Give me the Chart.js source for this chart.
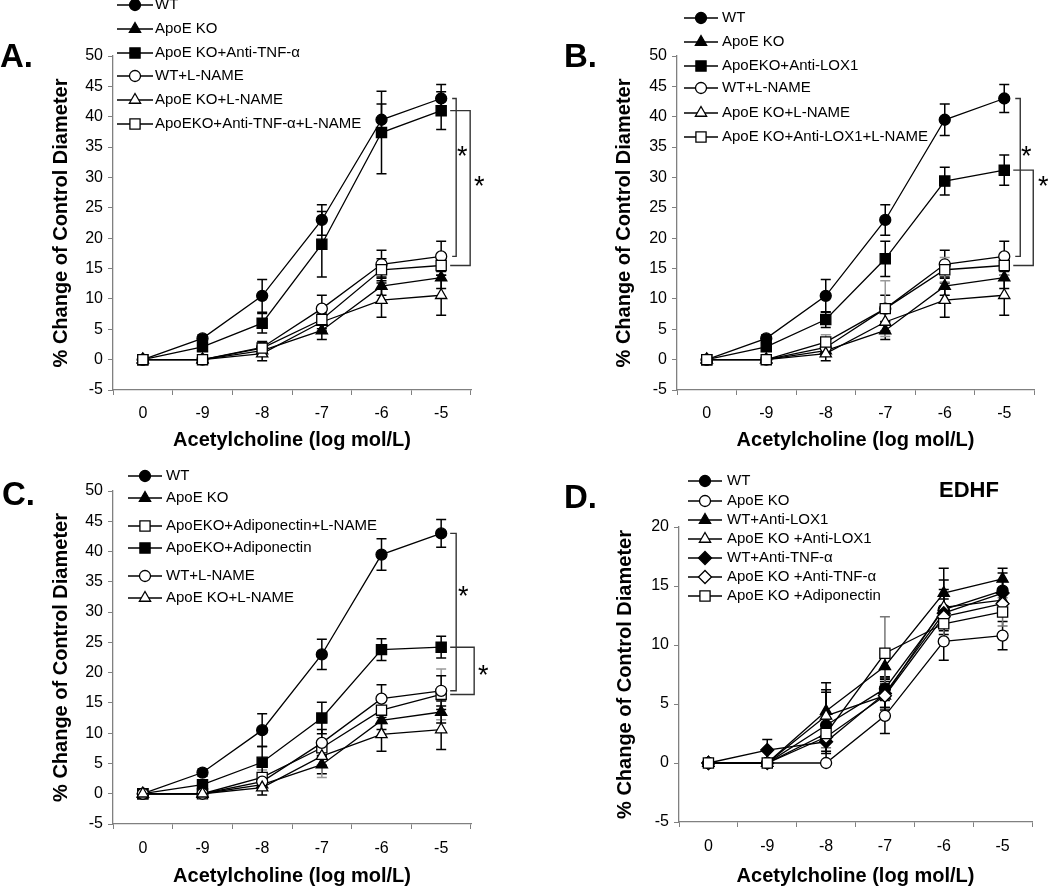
<!DOCTYPE html>
<html>
<head>
<meta charset="utf-8">
<title>Acetylcholine dose response</title>
<script src="https://cdn.jsdelivr.net/npm/chart.js@4.4.1/dist/chart.umd.min.js"></script>
<style>
  body { margin: 0; background: #fff; }
  #wrap { position: relative; width: 1050px; height: 888px; overflow: hidden; }
  canvas { position: absolute; }
</style>
</head>
<body>
<div id="wrap">
  <canvas id="chartA" width="525" height="452" style="left:0;top:0"></canvas>
  <canvas id="chartB" width="525" height="452" style="left:525px;top:0"></canvas>
  <canvas id="chartC" width="525" height="452" style="left:0;top:436px"></canvas>
  <canvas id="chartD" width="525" height="452" style="left:525px;top:436px"></canvas>
</div>
<script>
// x categories (log mol/L acetylcholine)
const doseLabels = ['0', '-9', '-8', '-7', '-6', '-5'];

// series shared by panels A-C
const wtMean = [0, 3.5, 10.5, 23.0, 39.5, 43.0];
const wtErr = [0, 0.6, 2.7, 2.5, 2.6, 2.3];
const apoeMean = [0, 0, 1.5, 4.8, 12.1, 13.5];
const apoeErr = [0, 0.3, 0.8, 1.5, 1.5, 1.8];
const wtLnMean = [0, 0, 2.0, 8.4, 15.7, 17.0];
const wtLnErr = [0, 0.3, 1.0, 2.2, 2.3, 2.5];
const apoeLnMean = [0, 0, 1.0, 6.2, 9.8, 10.6];
const apoeLnErr = [0, 0.3, 1.2, 1.5, 2.8, 3.3];

// panel A
const tnfMean = [0, 2.1, 6.0, 19.0, 37.4, 41.0];
const tnfErr = [0, 0.5, 1.6, 5.4, 6.8, 3.1];
const tnfLnMean = [0, 0, 1.9, 6.6, 14.8, 15.5];
const tnfLnErr = [0, 0.3, 0.8, 1.5, 1.8, 1.6];

// panel B
const loxMean = [0, 2.1, 6.6, 16.6, 29.4, 31.2];
const loxErr = [0, 0.5, 1.3, 2.9, 2.3, 2.5];
const loxLnMean = [0, 0, 2.9, 8.4, 14.8, 15.5];
const loxLnErr = [0, 0.3, 1.2, 4.6, 2.0, 1.6];

// panel C
const adipoMean = [0, 1.5, 5.2, 12.5, 23.8, 24.2];
const adipoErr = [0, 0.5, 2.6, 2.6, 1.8, 1.8];
const adipoLnMean = [0, 0, 2.7, 7.6, 13.8, 16.4];
const adipoLnErr = [0, 0.3, 1.2, 4.9, 2.2, 4.2];

// panel D (EDHF)
const dWtMean = [0, 0, 3.2, 6.3, 13.0, 14.6];
const dWtErr = [0, 0, 3.0, 1.0, 2.5, 1.5];
const dApoeMean = [0, 0, 0, 4.0, 10.3, 10.8];
const dApoeErr = [0, 0, 0, 1.5, 1.6, 1.2];
const dWtLoxMean = [0, 0, 4.4, 8.2, 14.4, 15.6];
const dWtLoxErr = [0, 0, 2.4, 1.0, 2.1, 0.9];
const dApoeLoxMean = [0, 0, 4.0, 5.7, 13.2, 13.8];
const dApoeLoxErr = [0, 0, 2.0, 1.0, 1.5, 1.0];
const dWtTnfMean = [0, 1.1, 1.8, 5.9, 12.7, 14.4];
const dWtTnfErr = [0, 0.9, 1.0, 1.2, 1.5, 1.0];
const dApoeTnfMean = [0, 0, 2.2, 5.7, 12.4, 13.5];
const dApoeTnfErr = [0, 0, 1.2, 1.2, 1.5, 1.0];
const dApoeAdipoMean = [0, 0, 2.5, 9.3, 11.8, 12.8];
const dApoeAdipoErr = [0, 0, 1.2, 3.1, 1.5, 1.2];

const FONT = "'Liberation Sans', Arial, sans-serif";
const markerSize = { circle: 5.5, triangle: 6.5, rect: 7.2, rectRot: 6.5 };

// error bars behind the lines
const errorBars = {
  id: 'errorBars',
  beforeDatasetsDraw(chart) {
    const { ctx, scales: { x, y } } = chart;
    ctx.save();
    ctx.lineWidth = 1.5;
    chart.data.datasets.forEach(ds => {
      if (!ds.errors) return;
      ctx.strokeStyle = ds.errColor || '#000';
      ds.data.forEach((v, i) => {
        const e = ds.errors[i];
        if (!e) return;
        const px = x.getPixelForValue(i);
        const top = y.getPixelForValue(v + e);
        const bot = y.getPixelForValue(v - e);
        ctx.beginPath();
        ctx.moveTo(px, top); ctx.lineTo(px, bot);
        ctx.moveTo(px - 5, top); ctx.lineTo(px + 5, top);
        ctx.moveTo(px - 5, bot); ctx.lineTo(px + 5, bot);
        ctx.stroke();
      });
    });
    ctx.restore();
  }
};

// significance brackets at the last dose
const brackets = {
  id: 'brackets',
  afterDatasetsDraw(chart, args, opts) {
    const { ctx, scales: { x, y } } = chart;
    const ds = chart.data.datasets;
    const last = doseLabels.length - 1;
    const px = x.getPixelForValue(last);
    ctx.save();
    ctx.strokeStyle = '#333';
    ctx.lineWidth = 1.4;
    ctx.fillStyle = '#000';
    ctx.font = '27px ' + FONT;
    ctx.textAlign = 'center';
    ctx.textBaseline = 'middle';
    (opts.items || []).forEach(b => {
      const y1 = y.getPixelForValue(ds[b.from].data[last]);
      const y2 = y.getPixelForValue(ds[b.to].data[last]);
      ctx.beginPath();
      ctx.moveTo(px + b.tick, y1);
      ctx.lineTo(px + b.dx, y1);
      ctx.lineTo(px + b.dx, y2);
      ctx.lineTo(px + b.tick, y2);
      ctx.stroke();
      ctx.fillText('*', px + b.starDx, y.getPixelForValue(b.starY));
    });
    ctx.restore();
  }
};

// legend drawn as line + marker rows
const sideLegend = {
  id: 'sideLegend',
  afterDraw(chart, args, opts) {
    const ctx = chart.ctx;
    ctx.save();
    ctx.font = '15px ' + FONT;
    ctx.textBaseline = 'middle';
    ctx.textAlign = 'left';
    chart.data.datasets.forEach((ds, i) => {
      const y = opts.rows[i];
      ctx.strokeStyle = '#000';
      ctx.lineWidth = 1.3;
      ctx.beginPath();
      ctx.moveTo(opts.x0, y);
      ctx.lineTo(opts.x1, y);
      ctx.stroke();
      ctx.fillStyle = ds.pointBackgroundColor;
      Chart.helpers.drawPoint(ctx, { pointStyle: ds.pointStyle, radius: ds.pointRadius, borderWidth: 1.3, rotation: 0 }, (opts.x0 + opts.x1) / 2, y);
      ctx.fillStyle = '#000';
      ctx.fillText(ds.label, opts.tx, y);
    });
    ctx.restore();
  }
};

// panel letter and extra heading
const panelText = {
  id: 'panelText',
  afterDraw(chart, args, opts) {
    const ctx = chart.ctx;
    ctx.save();
    ctx.fillStyle = '#000';
    ctx.textBaseline = 'middle';
    ctx.textAlign = 'left';
    ctx.font = 'bold 33px ' + FONT;
    ctx.fillText(opts.letter, opts.lx, opts.ly);
    if (opts.extra) {
      ctx.textAlign = 'center';
      ctx.font = 'bold 22px ' + FONT;
      ctx.fillText(opts.extra, opts.ex, opts.ey);
    }
    ctx.restore();
  }
};

const panels = [
  {
    id: 'chartA', yMax: 50,
    names: ['WT', 'ApoE KO', 'ApoE KO+Anti-TNF-α', 'WT+L-NAME', 'ApoE KO+L-NAME', 'ApoEKO+Anti-TNF-α+L-NAME'],
    means: [wtMean, apoeMean, tnfMean, wtLnMean, apoeLnMean, tnfLnMean],
    errs: [wtErr, apoeErr, tnfErr, wtLnErr, apoeLnErr, tnfLnErr],
    marks: ['circle', 'triangle', 'rect', 'circle', 'triangle', 'rect'],
    filled: [1, 1, 1, 0, 0, 0],
    padL: 45, padR: 54, padT: 56, yW: 68, xH: 62, xPad: 9,
    legend: { x0: 117, x1: 153, tx: 155, rows: [5, 29, 53, 76, 100, 124] },
    text: { letter: 'A.', lx: 0, ly: 58 },
    brackets: [
      { from: 0, to: 3, tick: 11, dx: 15, starDx: 21, starY: 33.3 },
      { from: 2, to: 5, tick: 9, dx: 29, starDx: 38, starY: 28.3 }
    ]
  },
  {
    id: 'chartB', yMax: 50,
    names: ['WT', 'ApoE KO', 'ApoEKO+Anti-LOX1', 'WT+L-NAME', 'ApoE KO+L-NAME', 'ApoE KO+Anti-LOX1+L-NAME'],
    means: [wtMean, apoeMean, loxMean, wtLnMean, apoeLnMean, loxLnMean],
    errs: [wtErr, apoeErr, loxErr, wtLnErr, apoeLnErr, loxLnErr],
    marks: ['circle', 'triangle', 'rect', 'circle', 'triangle', 'rect'],
    filled: [1, 1, 1, 0, 0, 0],
    errColors: ['#000', '#000', '#000', '#000', '#000', '#999'],
    padL: 83, padR: 16, padT: 56, yW: 69, xH: 62, xPad: 9,
    legend: { x0: 159, x1: 193, tx: 197, rows: [18, 42, 66, 88, 113, 137] },
    text: { letter: 'B.', lx: 39, ly: 58 },
    brackets: [
      { from: 0, to: 3, tick: 11, dx: 16, starDx: 22, starY: 33.3 },
      { from: 2, to: 5, tick: 9, dx: 29, starDx: 39, starY: 28.3 }
    ]
  },
  {
    id: 'chartC', yMax: 50,
    names: ['WT', 'ApoE KO', 'ApoEKO+Adiponectin+L-NAME', 'ApoEKO+Adiponectin', 'WT+L-NAME', 'ApoE KO+L-NAME'],
    means: [wtMean, apoeMean, adipoLnMean, adipoMean, wtLnMean, apoeLnMean],
    errs: [wtErr, apoeErr, adipoLnErr, adipoErr, wtLnErr, apoeLnErr],
    marks: ['circle', 'triangle', 'rect', 'rect', 'circle', 'triangle'],
    filled: [1, 1, 0, 1, 0, 0],
    errColors: ['#000', '#000', '#999', '#000', '#000', '#000'],
    padL: 45, padR: 54, padT: 55, yW: 68, xH: 64, xPad: 10,
    legend: { x0: 128, x1: 162, tx: 166, rows: [40, 62, 90, 112, 140, 162] },
    text: { letter: 'C.', lx: 2, ly: 60 },
    brackets: [
      { from: 0, to: 4, tick: 9, dx: 15, starDx: 22, starY: 32.4 },
      { from: 3, to: 2, tick: 9, dx: 33, starDx: 42, starY: 19.3 }
    ]
  },
  {
    id: 'chartD', yMax: 20,
    names: ['WT', 'ApoE KO', 'WT+Anti-LOX1', 'ApoE KO +Anti-LOX1', 'WT+Anti-TNF-α', 'ApoE KO +Anti-TNF-α', 'ApoE KO +Adiponectin'],
    means: [dWtMean, dApoeMean, dWtLoxMean, dApoeLoxMean, dWtTnfMean, dApoeTnfMean, dApoeAdipoMean],
    errs: [dWtErr, dApoeErr, dWtLoxErr, dApoeLoxErr, dWtTnfErr, dApoeTnfErr, dApoeAdipoErr],
    marks: ['circle', 'circle', 'triangle', 'triangle', 'rectRot', 'rectRot', 'rect'],
    filled: [1, 0, 1, 0, 1, 0, 0],
    errColors: ['#000', '#000', '#000', '#000', '#000', '#000', '#777'],
    padL: 84, padR: 18, padT: 91, yW: 70, xH: 66, xPad: 10,
    legend: { x0: 163, x1: 197, tx: 202, rows: [45, 65, 84, 103, 122, 141, 160] },
    text: { letter: 'D.', lx: 39, ly: 63, extra: 'EDHF', ex: 444, ey: 55 }
  }
];

function buildChart(p) {
  const datasets = p.names.map((name, i) => ({
    label: name,
    data: p.means[i],
    errors: p.errs[i],
    errColor: p.errColors ? p.errColors[i] : '#000',
    borderColor: '#000',
    borderWidth: 1.3,
    pointStyle: p.marks[i],
    pointRadius: markerSize[p.marks[i]],
    pointBorderWidth: 1.3,
    pointBorderColor: '#000',
    pointBackgroundColor: p.filled[i] ? '#000' : '#fff',
    tension: 0,
    fill: false,
    order: p.names.length - i
  }));

  new Chart(document.getElementById(p.id), {
    type: 'line',
    data: { labels: doseLabels, datasets: datasets },
    options: {
      responsive: false,
      animation: false,
      devicePixelRatio: 1,
      events: [],
      layout: { padding: { left: p.padL, right: p.padR, top: p.padT, bottom: 0 } },
      scales: {
        x: {
          type: 'category',
          offset: true,
          grid: { offset: true, drawOnChartArea: false, drawTicks: true, tickLength: 5, color: '#808080' },
          border: { color: '#808080', width: 1.3 },
          ticks: { color: '#000', font: { family: FONT, size: 16 }, padding: p.xPad, maxRotation: 0, autoSkip: false },
          title: {
            display: true, text: 'Acetylcholine (log mol/L)', color: '#000',
            font: { family: FONT, size: 20, weight: 'bold' }, padding: { top: 0, bottom: 0 }
          },
          afterFit(s) { s.height = p.xH; }
        },
        y: {
          min: -5,
          max: p.yMax,
          grid: { drawOnChartArea: false, drawTicks: true, tickLength: 5, color: '#808080' },
          border: { color: '#808080', width: 1.3 },
          ticks: { stepSize: 5, color: '#000', font: { family: FONT, size: 16 }, padding: 5, autoSkip: false },
          title: {
            display: true, text: '% Change of Control Diameter', color: '#000',
            font: { family: FONT, size: 20, weight: 'bold' }, padding: { top: 4, bottom: 0 }
          },
          afterFit(s) { s.width = p.yW; }
        }
      },
      plugins: {
        legend: { display: false },
        tooltip: { enabled: false },
        sideLegend: p.legend,
        panelText: p.text,
        brackets: { items: p.brackets || [] }
      }
    },
    plugins: [errorBars, brackets, sideLegend, panelText]
  });
}

panels.forEach(buildChart);
</script>
</body>
</html>
